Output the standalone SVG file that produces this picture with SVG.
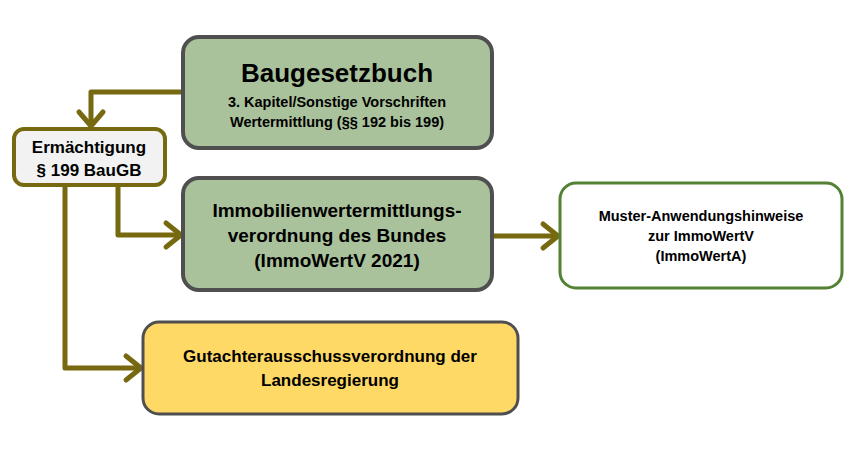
<svg xmlns="http://www.w3.org/2000/svg" width="859" height="453" viewBox="0 0 859 453">
<style>
.c{fill:none;stroke:#76690f;stroke-width:5;stroke-linejoin:round}
.h{fill:none;stroke:#76690f;stroke-width:5;stroke-linecap:round;stroke-linejoin:round}
.g{fill:#aac29b;stroke:#4f4f4f;stroke-width:4}
text{font-family:"Liberation Sans",Arial,sans-serif;font-weight:bold;fill:#000;text-anchor:middle}
</style>
<rect width="859" height="453" fill="#fff"/>
<g id="connectors">
<path class="c" d="M183,92 H91 V126"/>
<path class="h" d="M79,112 L91,126 L103,112"/>
<path class="c" d="M118,185 V235 H181"/>
<path class="h" d="M166,223 L181,235 L166,247"/>
<path class="c" d="M65,185 V368 H141"/>
<path class="h" d="M126,356 L141,368 L126,380"/>
<path class="c" d="M492,236 H558"/>
<path class="h" d="M543,224 L558,236 L543,248"/>
</g>
<g id="baugb">
<rect class="g" x="183" y="37" width="309" height="111" rx="16"/>
<text x="337" y="82" font-size="26">Baugesetzbuch</text>
<text x="337" y="107" font-size="14.5">3. Kapitel/Sonstige Vorschriften</text>
<text x="337" y="127" font-size="14.5">Wertermittlung (§§ 192 bis 199)</text>
</g>
<g id="erm">
<rect x="14" y="129" width="151" height="56" rx="10" fill="#f2f2f2" stroke="#76690f" stroke-width="4"/>
<text x="89" y="153" font-size="17">Ermächtigung</text>
<text x="89" y="176" font-size="17">§ 199 BauGB</text>
</g>
<g id="immo">
<rect class="g" x="183" y="178" width="309" height="112" rx="16"/>
<text x="337" y="217" font-size="19">Immobilienwertermittlungs-</text>
<text x="337" y="242" font-size="19">verordnung des Bundes</text>
<text x="337" y="267" font-size="19">(ImmoWertV 2021)</text>
</g>
<g id="muster">
<rect x="560" y="183" width="282" height="105" rx="16" fill="#fff" stroke="#548235" stroke-width="3"/>
<text x="701" y="221" font-size="14.5">Muster-Anwendungshinweise</text>
<text x="701" y="241" font-size="14.5">zur ImmoWertV</text>
<text x="701" y="261" font-size="14.5">(ImmoWertA)</text>
</g>
<g id="gutachter">
<rect x="143" y="322" width="375" height="92" rx="16" fill="#ffd966" stroke="#4f4f4f" stroke-width="3"/>
<text x="330" y="362" font-size="17">Gutachterausschussverordnung der</text>
<text x="330" y="386" font-size="17">Landesregierung</text>
</g>
</svg>
